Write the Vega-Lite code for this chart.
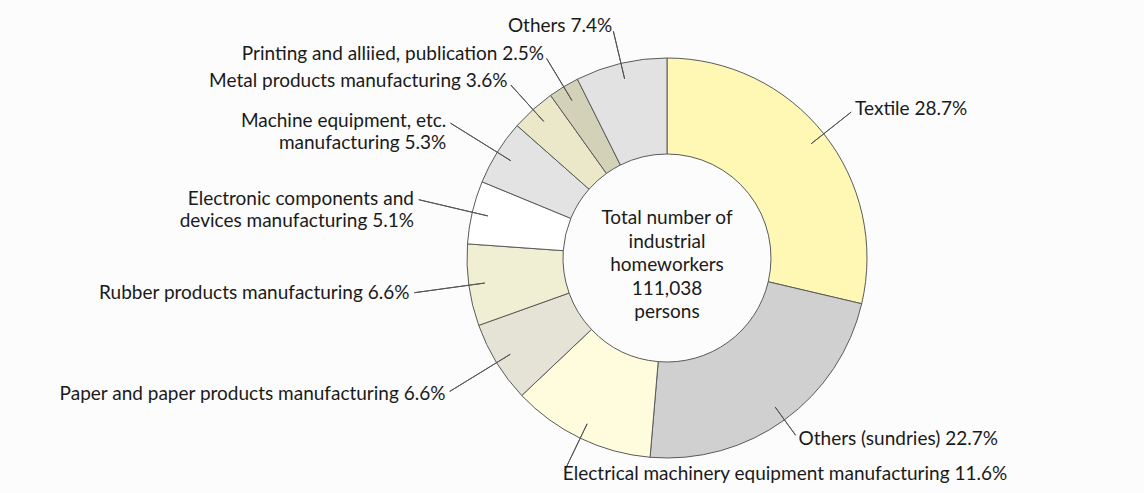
{
  "$schema": "https://vega.github.io/schema/vega-lite/v6.json",
  "width": 954,
  "height": 470,
  "autosize": {"type": "none"},
  "padding": {"left": 190, "top": 23, "right": 0, "bottom": 0},
  "background": "#FCFCFC",
  "config": {"view": {"stroke": null}},
  "datasets": {
    "sectors": [
      {"idx": 0, "category": "Textile", "pct": 28.7, "label": "Textile 28.7%"},
      {"idx": 1, "category": "Others (sundries)", "pct": 22.7, "label": "Others (sundries)    22.7%"},
      {"idx": 2, "category": "Electrical machinery equipment manufacturing", "pct": 11.6, "label": "Electrical machinery equipment manufacturing    11.6%"},
      {"idx": 3, "category": "Paper and paper products manufacturing", "pct": 6.6, "label": "Paper and paper products manufacturing  6.6%"},
      {"idx": 4, "category": "Rubber products manufacturing", "pct": 6.6, "label": "Rubber products manufacturing  6.6%"},
      {"idx": 5, "category": "Electronic components and devices manufacturing", "pct": 5.1, "label": "Electronic components and  \ndevices manufacturing  5.1%"},
      {"idx": 6, "category": "Machine equipment, etc. manufacturing", "pct": 5.3, "label": "Machine equipment, etc.      \nmanufacturing  5.3%"},
      {"idx": 7, "category": "Metal products manufacturing", "pct": 3.6, "label": "Metal products manufacturing  3.6%"},
      {"idx": 8, "category": "Printing and alliied, publication", "pct": 2.5, "label": "Printing and alliied, publication  2.5%"},
      {"idx": 9, "category": "Others", "pct": 7.4, "label": "Others  7.4%"}
    ],
    "centre": [
      {"caption": "Total number of\nindustrial\nhomeworkers\n111,038\npersons"}
    ]
  },
  "layer": [
    {
      "data": {"name": "sectors"},
      "mark": {"type": "arc", "outerRadius": 200, "innerRadius": 104, "stroke": "#5a5a5a", "strokeWidth": 1},
      "encoding": {
        "theta": {"field": "pct", "type": "quantitative", "stack": true},
        "order": {"field": "idx", "type": "quantitative"},
        "color": {
          "field": "category",
          "type": "nominal",
          "legend": null,
          "scale": {
            "domain": ["Textile", "Others (sundries)", "Electrical machinery equipment manufacturing", "Paper and paper products manufacturing", "Rubber products manufacturing", "Electronic components and devices manufacturing", "Machine equipment, etc. manufacturing", "Metal products manufacturing", "Printing and alliied, publication", "Others"],
            "range": ["#FFF8B4", "#D0D0D0", "#FFFCDD", "#E4E3D5", "#F1EFD3", "#FFFFFF", "#E3E3E3", "#EAE8C8", "#D3D2B8", "#E2E2E2"]
          }
        }
      }
    },
    {
      "data": {"name": "sectors"},
      "mark": {"type": "arc", "outerRadius": 235, "innerRadius": 184, "padAngle": 3.14, "filled": false, "color": "#555555", "strokeWidth": 1},
      "encoding": {
        "theta": {"field": "pct", "type": "quantitative", "stack": true},
        "order": {"field": "idx", "type": "quantitative"},
        "detail": {"field": "category", "type": "nominal"},
        "opacity": {"condition": {"test": "indexof([0, 2], datum.idx) >= 0", "value": 1}, "value": 0}
      }
    },
    {
      "data": {"name": "sectors"},
      "mark": {"type": "arc", "outerRadius": 219, "innerRadius": 184, "padAngle": 3.14, "filled": false, "color": "#555555", "strokeWidth": 1},
      "encoding": {
        "theta": {"field": "pct", "type": "quantitative", "stack": true},
        "order": {"field": "idx", "type": "quantitative"},
        "detail": {"field": "category", "type": "nominal"},
        "opacity": {"condition": {"test": "datum.idx == 1", "value": 1}, "value": 0}
      }
    },
    {
      "data": {"name": "sectors"},
      "mark": {"type": "arc", "outerRadius": 255, "innerRadius": 184, "padAngle": 3.14, "filled": false, "color": "#555555", "strokeWidth": 1},
      "encoding": {
        "theta": {"field": "pct", "type": "quantitative", "stack": true},
        "order": {"field": "idx", "type": "quantitative"},
        "detail": {"field": "category", "type": "nominal"},
        "opacity": {"condition": {"test": "indexof([3, 4, 5, 6], datum.idx) >= 0", "value": 1}, "value": 0}
      }
    },
    {
      "data": {"name": "sectors"},
      "mark": {"type": "arc", "outerRadius": 233, "innerRadius": 184, "padAngle": 3.14, "filled": false, "color": "#555555", "strokeWidth": 1},
      "encoding": {
        "theta": {"field": "pct", "type": "quantitative", "stack": true},
        "order": {"field": "idx", "type": "quantitative"},
        "detail": {"field": "category", "type": "nominal"},
        "opacity": {"condition": {"test": "indexof([7, 8, 9], datum.idx) >= 0", "value": 1}, "value": 0}
      }
    },
    {
      "data": {"name": "sectors"},
      "mark": {"type": "text", "radius": 240, "align": "left", "baseline": "middle", "font": "Lato", "fontSize": 19, "color": "#1a1a1a", "lineBreak": "\n", "lineHeight": 22},
      "encoding": {
        "theta": {"field": "pct", "type": "quantitative", "stack": true},
        "order": {"field": "idx", "type": "quantitative"},
        "detail": {"field": "category", "type": "nominal"},
        "text": {"condition": {"test": "indexof([0, 2], datum.idx) >= 0", "field": "label"}, "value": ""}
      }
    },
    {
      "data": {"name": "sectors"},
      "mark": {"type": "text", "radius": 224, "align": "left", "baseline": "middle", "font": "Lato", "fontSize": 19, "color": "#1a1a1a", "lineBreak": "\n", "lineHeight": 22},
      "encoding": {
        "theta": {"field": "pct", "type": "quantitative", "stack": true},
        "order": {"field": "idx", "type": "quantitative"},
        "detail": {"field": "category", "type": "nominal"},
        "text": {"condition": {"test": "datum.idx == 1", "field": "label"}, "value": ""}
      }
    },
    {
      "data": {"name": "sectors"},
      "mark": {"type": "text", "radius": 260, "align": "right", "baseline": "middle", "font": "Lato", "fontSize": 19, "color": "#1a1a1a", "lineBreak": "\n", "lineHeight": 22},
      "encoding": {
        "theta": {"field": "pct", "type": "quantitative", "stack": true},
        "order": {"field": "idx", "type": "quantitative"},
        "detail": {"field": "category", "type": "nominal"},
        "text": {"condition": {"test": "indexof([3, 4, 5, 6], datum.idx) >= 0", "field": "label"}, "value": ""}
      }
    },
    {
      "data": {"name": "sectors"},
      "mark": {"type": "text", "radius": 238, "align": "right", "baseline": "middle", "font": "Lato", "fontSize": 19, "color": "#1a1a1a", "lineBreak": "\n", "lineHeight": 22},
      "encoding": {
        "theta": {"field": "pct", "type": "quantitative", "stack": true},
        "order": {"field": "idx", "type": "quantitative"},
        "detail": {"field": "category", "type": "nominal"},
        "text": {"condition": {"test": "indexof([7, 8, 9], datum.idx) >= 0", "field": "label"}, "value": ""}
      }
    },
    {
      "data": {"name": "centre"},
      "mark": {"type": "text", "align": "center", "baseline": "middle", "font": "Lato", "fontSize": 19, "color": "#1a1a1a", "lineBreak": "\n", "lineHeight": 23.5, "dy": -40},
      "encoding": {
        "text": {"field": "caption", "type": "nominal"}
      }
    }
  ]
}
